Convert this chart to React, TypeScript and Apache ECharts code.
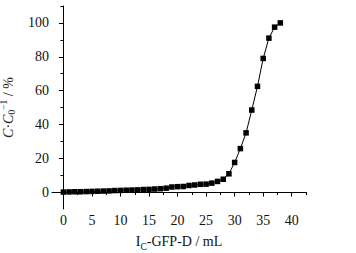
import React, { useEffect, useRef } from "react";
import * as echarts from "echarts";

const xValues = [0,1,2,3,4,5,6,7,8,9,10,11,12,13,14,15,16,17,18,19,20,21,22,23,24,25,26,27,28,29,30,31,32,33,34,35,36,37,38];
const yValues = [0,0.1,0.2,0.2,0.3,0.4,0.5,0.6,0.7,0.9,1.0,1.1,1.2,1.3,1.5,1.6,1.8,2.0,2.3,3.0,3.2,3.3,3.9,4.2,4.6,4.7,5.3,6.3,7.6,10.8,17.5,25.7,35,48.5,62.5,79,91,97.5,100];
const xMajor = [0,5,10,15,20,25,30,35,40];
const xMinor = [2.5,7.5,12.5,17.5,22.5,27.5,32.5,37.5,42.5];
const yMajor = [0,20,40,60,80,100];
const yMinor = [10,30,50,70,90,110];

const FONT = "Liberation Serif";
const TXT = "#111";
const YNAME = "#2e1f18";

export default function App() {
  const ref = useRef<HTMLDivElement>(null);
  useEffect(() => {
    const chart = echarts.init(ref.current!, null, { renderer: "svg" });
    const axisLine = { lineStyle: { color: "#000", width: 1 } };
    chart.setOption({
      animation: false,
      grid: { left: 52, top: 6, right: 50, bottom: 44, outerBoundsMode: "none", containLabel: false },
      xAxis: [
        {
          type: "value", min: -2, max: 42.5, position: "bottom",
          axisLine: { show: true, ...axisLine },
          axisTick: { show: true, inside: false, length: 4.5, customValues: xMajor, lineStyle: { color: "#000" } },
          axisLabel: { customValues: xMajor, fontFamily: FONT, fontSize: 14, color: TXT, margin: 4 },
          splitLine: { show: false },
          name: "{a|I}{s|C}{a|-GFP-D / mL}",
          nameLocation: "middle", nameGap: 25,
          nameTextStyle: {
            fontFamily: FONT, color: TXT,
            rich: {
              a: { fontFamily: FONT, fontSize: 14, color: TXT, lineHeight: 18, verticalAlign: "top" },
              s: { fontFamily: FONT, fontSize: 9.5, color: TXT, lineHeight: 10, verticalAlign: "bottom" },
            },
          },
        },
        {
          type: "value", min: -2, max: 42.5, position: "bottom",
          axisLine: { show: false },
          axisTick: { show: true, inside: false, length: 3, customValues: xMinor, lineStyle: { color: "#000" } },
          axisLabel: { show: false, customValues: xMinor },
          splitLine: { show: false },
        },
      ],
      yAxis: [
        {
          type: "value", min: -10, max: 110, position: "left",
          axisLine: { show: true, ...axisLine },
          axisTick: { show: true, inside: false, length: 4.5, customValues: yMajor, lineStyle: { color: "#000" } },
          axisLabel: { customValues: yMajor, fontFamily: FONT, fontSize: 14, color: TXT, margin: 3 },
          splitLine: { show: false },
          name: "{i|C}{a|·}{i|C}{s|0}{p|−1}{a| / %}",
          nameLocation: "middle", nameGap: 32, nameRotate: 90,
          nameTextStyle: {
            fontFamily: FONT, color: YNAME,
            rich: {
              a: { fontFamily: FONT, fontSize: 14, color: YNAME, lineHeight: 18 },
              i: { fontFamily: FONT, fontSize: 14, fontStyle: "italic", color: YNAME, lineHeight: 18 },
              s: { fontFamily: FONT, fontSize: 9.5, color: YNAME, lineHeight: 18, verticalAlign: "bottom" },
              p: { fontFamily: FONT, fontSize: 9.5, color: YNAME, lineHeight: 18, verticalAlign: "top" },
            },
          },
        },
        {
          type: "value", min: -10, max: 110, position: "left",
          axisLine: { show: false },
          axisTick: { show: true, inside: false, length: 3, customValues: yMinor, lineStyle: { color: "#000" } },
          axisLabel: { show: false, customValues: yMinor },
          splitLine: { show: false },
        },
      ],
      series: [
        {
          type: "line",
          xAxisIndex: 0, yAxisIndex: 0,
          data: xValues.map((x, i) => [x, yValues[i]]),
          symbol: "rect", symbolSize: 5.5,
          itemStyle: { color: "#000" },
          lineStyle: { color: "#000", width: 1 },
        },
      ],
    });
    return () => chart.dispose();
  }, []);
  return <div ref={ref} style={{ width: 356, height: 253, position: "absolute", left: 0, top: 0, background: "#fff" }} />;
}
